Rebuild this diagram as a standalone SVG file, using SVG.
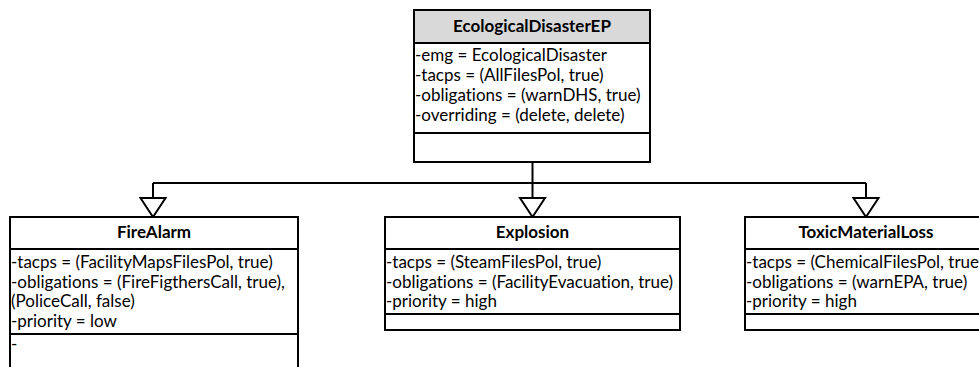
<svg xmlns="http://www.w3.org/2000/svg" width="979" height="367" viewBox="0 0 979 367">
  <style>
    .box { fill: #ffffff; stroke: #000000; stroke-width: 2; }
    .head { fill: #d9d9d9; stroke: #000000; stroke-width: 2; }
    .div { stroke: #000000; stroke-width: 2; }
    text { font-family: Lato, "Liberation Sans", sans-serif; font-size: 17px; fill: #000; font-variant-ligatures: none; font-feature-settings: "liga" 0, "dlig" 0; }
    .title { font-weight: bold; text-anchor: middle; }
    .wire { fill: none; stroke: #000000; stroke-width: 2; }
    .tri { fill: #ffffff; stroke: #000000; stroke-width: 2; stroke-linejoin: miter; }
  </style>
  <rect width="979" height="367" fill="#ffffff"/>

  <!-- generalisation connectors -->
  <g id="connectors">
    <path class="wire" d="M532.5 162 V198 M153 183 H866 M153 183 V198 M866 183 V198"/>
    <polygon class="tri" points="520,198 545,198 532.5,217"/>
    <polygon class="tri" points="140.5,198 165.5,198 153,217"/>
    <polygon class="tri" points="853.5,198 878.5,198 866,217"/>
  </g>

  <g id="EcologicalDisasterEP">
    <rect class="box" x="414" y="10" width="236" height="152"/>
    <rect class="head" x="414" y="10" width="236" height="33"/>
    <line class="div" x1="414" y1="133" x2="650" y2="133"/>
    <text class="title" x="532" y="32">EcologicalDisasterEP</text>
    <text x="415" y="61">-emg = EcologicalDisaster</text>
    <text x="415" y="81">-tacps = (AllFilesPol, true)</text>
    <text x="415" y="101">-obligations = (warnDHS, true)</text>
    <text x="415" y="121">-overriding = (delete, delete)</text>
  </g>

  <g id="FireAlarm">
    <rect class="box" x="10" y="217" width="288" height="170"/>
    <line class="div" x1="10" y1="249" x2="298" y2="249"/>
    <line class="div" x1="10" y1="334" x2="298" y2="334"/>
    <text class="title" x="154" y="238">FireAlarm</text>
    <text x="11" y="268">-tacps = (FacilityMapsFilesPol, true)</text>
    <text x="11" y="287.5">-obligations = (FireFigthersCall, true),</text>
    <text x="11" y="307">(PoliceCall, false)</text>
    <text x="11" y="326.5">-priority = low</text>
    <text x="11" y="350">-</text>
  </g>

  <g id="Explosion">
    <rect class="box" x="385" y="217" width="295" height="113"/>
    <line class="div" x1="385" y1="249" x2="680" y2="249"/>
    <line class="div" x1="385" y1="314" x2="680" y2="314"/>
    <text class="title" x="532.5" y="238">Explosion</text>
    <text x="386" y="268">-tacps = (SteamFilesPol, true)</text>
    <text x="386" y="287.5">-obligations = (FacilityEvacuation, true)</text>
    <text x="386" y="307">-priority = high</text>
  </g>

  <g id="ToxicMaterialLoss">
    <rect class="box" x="745" y="217" width="242" height="113"/>
    <line class="div" x1="745" y1="249" x2="987" y2="249"/>
    <line class="div" x1="745" y1="314" x2="987" y2="314"/>
    <text class="title" x="866" y="238">ToxicMaterialLoss</text>
    <text x="746" y="268">-tacps = (ChemicalFilesPol, true)</text>
    <text x="746" y="287.5">-obligations = (warnEPA, true)</text>
    <text x="746" y="307">-priority = high</text>
  </g>
</svg>
